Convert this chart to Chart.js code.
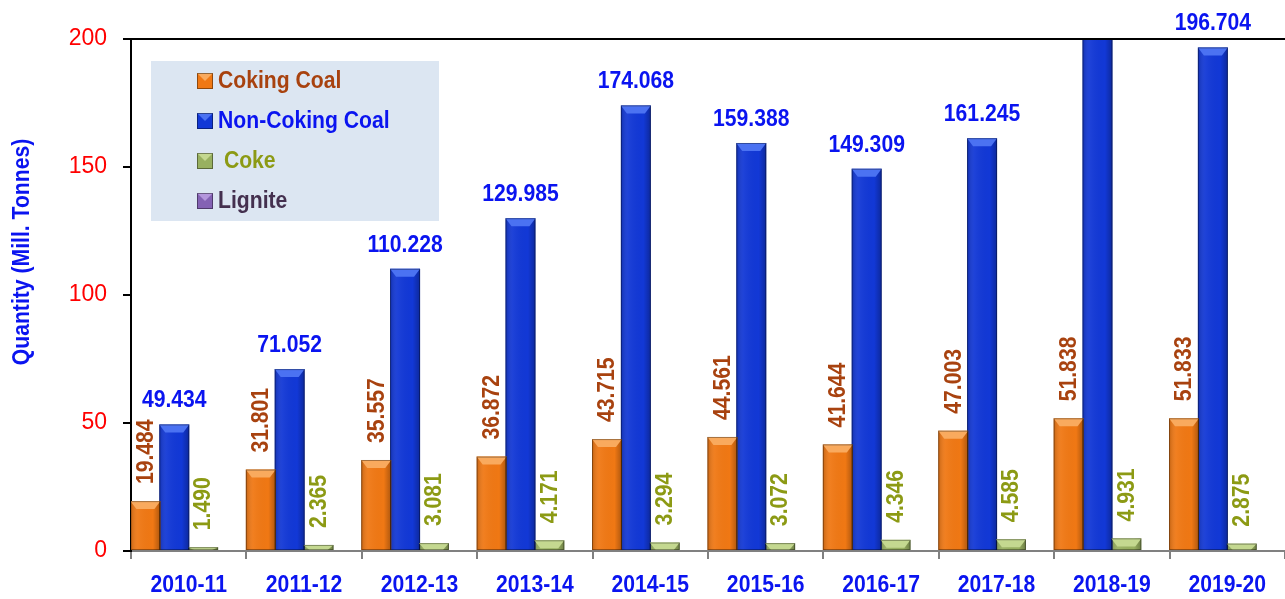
<!DOCTYPE html>
<html>
<head>
<meta charset="utf-8">
<script src="https://cdn.jsdelivr.net/npm/chart.js@4"></script>
<style>
  html, body { margin: 0; padding: 0; background: #fff; }
  #wrap { width: 1285px; height: 599px; position: relative; }
</style>
</head>
<body>
<div id="wrap"><canvas id="importChart"></canvas></div>
<script>
// Chart data
const years = ["2010-11", "2011-12", "2012-13", "2013-14", "2014-15", "2015-16", "2016-17", "2017-18", "2018-19", "2019-20"];
const cokingCoal = [19.484, 31.801, 35.557, 36.872, 43.715, 44.561, 41.644, 47.003, 51.838, 51.833];
const nonCokingCoal = [49.434, 71.052, 110.228, 129.985, 174.068, 159.388, 149.309, 161.245, 210, 196.704];
const coke = [1.490, 2.365, 3.081, 4.171, 3.294, 3.072, 4.346, 4.585, 4.931, 2.875];
const lignite = [0, 0, 0, 0, 0, 0, 0, 0, 0, 0];
const yTicks = [0, 50, 100, 150, 200];

const FONT = "'Liberation Sans', Arial, sans-serif";
const SQUEEZE = 0.92; // the original uses a narrow face

const seriesStyle = [
  { label: "Coking Coal", color: "#F07814", top: "#F9AA5E", text: "#A8420F" },
  { label: "Non-Coking Coal", color: "#1238D6", top: "#4B72F2", text: "#0A14F0" },
  { label: " Coke", color: "#98B060", top: "#C4D890", text: "#8C9A14" },
  { label: "Lignite", color: "#8462B4", top: "#B496DC", text: "#44304F" }
];

// draw text squeezed along its own direction
function narrowText(ctx, txt, x, y, angle) {
  ctx.save();
  ctx.translate(x, y);
  if (angle) ctx.rotate(angle);
  ctx.scale(SQUEEZE, 1);
  ctx.fillText(txt, 0, 0);
  ctx.restore();
}

const barDecor = {
  id: "barDecor",
  afterDatasetsDraw(chart) {
    const { ctx, chartArea } = chart;
    ctx.save();
    ctx.beginPath();
    ctx.rect(chartArea.left, chartArea.top, chartArea.right - chartArea.left, chartArea.bottom - chartArea.top);
    ctx.clip();
    chart.data.datasets.forEach((ds, di) => {
      const meta = chart.getDatasetMeta(di);
      meta.data.forEach((bar) => {
        const h = bar.base - bar.y;
        if (h < 0.5) return;
        const l = bar.x - bar.width / 2, r = bar.x + bar.width / 2;
        const g = ctx.createLinearGradient(l, 0, r, 0);
        g.addColorStop(0, "rgba(0,0,0,0.18)");
        g.addColorStop(0.25, "rgba(255,255,255,0.05)");
        g.addColorStop(0.75, "rgba(0,0,0,0.0)");
        g.addColorStop(1, "rgba(0,0,0,0.28)");
        ctx.fillStyle = g;
        ctx.fillRect(l, bar.y, bar.width, h);
        // top bevel
        const bh = Math.min(8, h);
        ctx.fillStyle = seriesStyle[di].top;
        ctx.beginPath();
        ctx.moveTo(l, bar.y);
        ctx.lineTo(r, bar.y);
        ctx.lineTo(r - 6, bar.y + bh);
        ctx.lineTo(l + 6, bar.y + bh);
        ctx.closePath();
        ctx.fill();
        ctx.strokeStyle = "rgba(0,0,0,0.35)";
        ctx.lineWidth = 1;
        ctx.strokeRect(l + 0.5, bar.y + 0.5, bar.width - 1, h - 1);
      });
    });
    ctx.restore();

    // value labels
    const yMax = chart.scales.y.max;
    ctx.save();
    ctx.font = "bold 23px " + FONT;
    [0, 1, 2].forEach((di) => {
      const meta = chart.getDatasetMeta(di);
      const values = chart.data.datasets[di].data;
      ctx.fillStyle = seriesStyle[di].text;
      meta.data.forEach((bar, i) => {
        const v = values[i];
        if (v > yMax) return;
        const txt = v.toFixed(3);
        if (di === 1) {
          ctx.textAlign = "center";
          ctx.textBaseline = "alphabetic";
          narrowText(ctx, txt, bar.x, bar.y - 17, 0);
        } else {
          ctx.textAlign = "left";
          ctx.textBaseline = "middle";
          narrowText(ctx, txt, bar.x + 1, bar.y - 17, -Math.PI / 2);
        }
      });
    });
    ctx.restore();
  },
  afterDraw(chart) {
    const { ctx, chartArea } = chart;
    ctx.save();
    // top frame line
    ctx.strokeStyle = "#000";
    ctx.lineWidth = 2;
    ctx.beginPath();
    ctx.moveTo(chartArea.left - 8, chartArea.top);
    ctx.lineTo(chartArea.right, chartArea.top);
    ctx.stroke();

    // category labels
    const xs = chart.scales.x;
    ctx.font = "bold 23px " + FONT;
    ctx.fillStyle = "#0A14F0";
    ctx.textAlign = "center";
    ctx.textBaseline = "middle";
    years.forEach((yr, i) => narrowText(ctx, yr, xs.getPixelForValue(i), 586, 0));

    // legend box
    ctx.fillStyle = "#DCE6F2";
    ctx.fillRect(151, 61, 288, 160);
    ctx.textAlign = "left";
    seriesStyle.forEach((s, i) => {
      const cy = 81 + i * 40;
      ctx.fillStyle = s.color;
      ctx.fillRect(197, cy - 8, 16, 16);
      ctx.fillStyle = s.top;
      ctx.beginPath();
      ctx.moveTo(197, cy - 8);
      ctx.lineTo(213, cy - 8);
      ctx.lineTo(205, cy);
      ctx.closePath();
      ctx.fill();
      ctx.strokeStyle = "rgba(0,0,0,0.4)";
      ctx.lineWidth = 1;
      ctx.strokeRect(197.5, cy - 7.5, 15, 15);
      ctx.fillStyle = s.text;
      narrowText(ctx, s.label, 218, cy + 1, 0);
    });

    // y axis title
    ctx.textAlign = "center";
    ctx.fillStyle = "#0A14F0";
    ctx.font = "bold 23px " + FONT;
    narrowText(ctx, "Quantity (Mill. Tonnes)", 23, 252, -Math.PI / 2);
    ctx.restore();
  }
};

const ctx = document.getElementById("importChart").getContext("2d");
new Chart(ctx, {
  type: "bar",
  data: {
    labels: years,
    datasets: [
      { label: "Coking Coal", data: cokingCoal },
      { label: "Non-Coking Coal", data: nonCokingCoal },
      { label: "Coke", data: coke },
      { label: "Lignite", data: lignite }
    ].map((d, i) => ({
      ...d,
      backgroundColor: seriesStyle[i].color,
      borderWidth: 0,
      categoryPercentage: 1.0,
      barPercentage: 1.04
    }))
  },
  options: {
    responsive: true,
    maintainAspectRatio: false,
    animation: false,
    layout: { padding: { top: 39, right: 0, bottom: 0, left: 0 } },
    plugins: {
      legend: { display: false },
      tooltip: { enabled: false }
    },
    scales: {
      x: {
        afterFit: (s) => { s.height = 48; },
        grid: { drawOnChartArea: false, tickLength: 8, color: "#808080", lineWidth: 2 },
        border: { color: "#808080", width: 2 },
        ticks: { display: false }
      },
      y: {
        min: 0,
        max: 200,
        afterFit: (s) => { s.width = 131; },
        afterBuildTicks: (s) => { s.ticks = yTicks.map((v) => ({ value: v })); },
        grid: { drawOnChartArea: false, tickLength: 8, color: "#000", lineWidth: 2 },
        border: { color: "#000", width: 2 },
        ticks: { color: "#FF0000", font: { family: FONT, size: 23 }, padding: 16 }
      }
    }
  },
  plugins: [barDecor]
});
</script>
</body>
</html>
